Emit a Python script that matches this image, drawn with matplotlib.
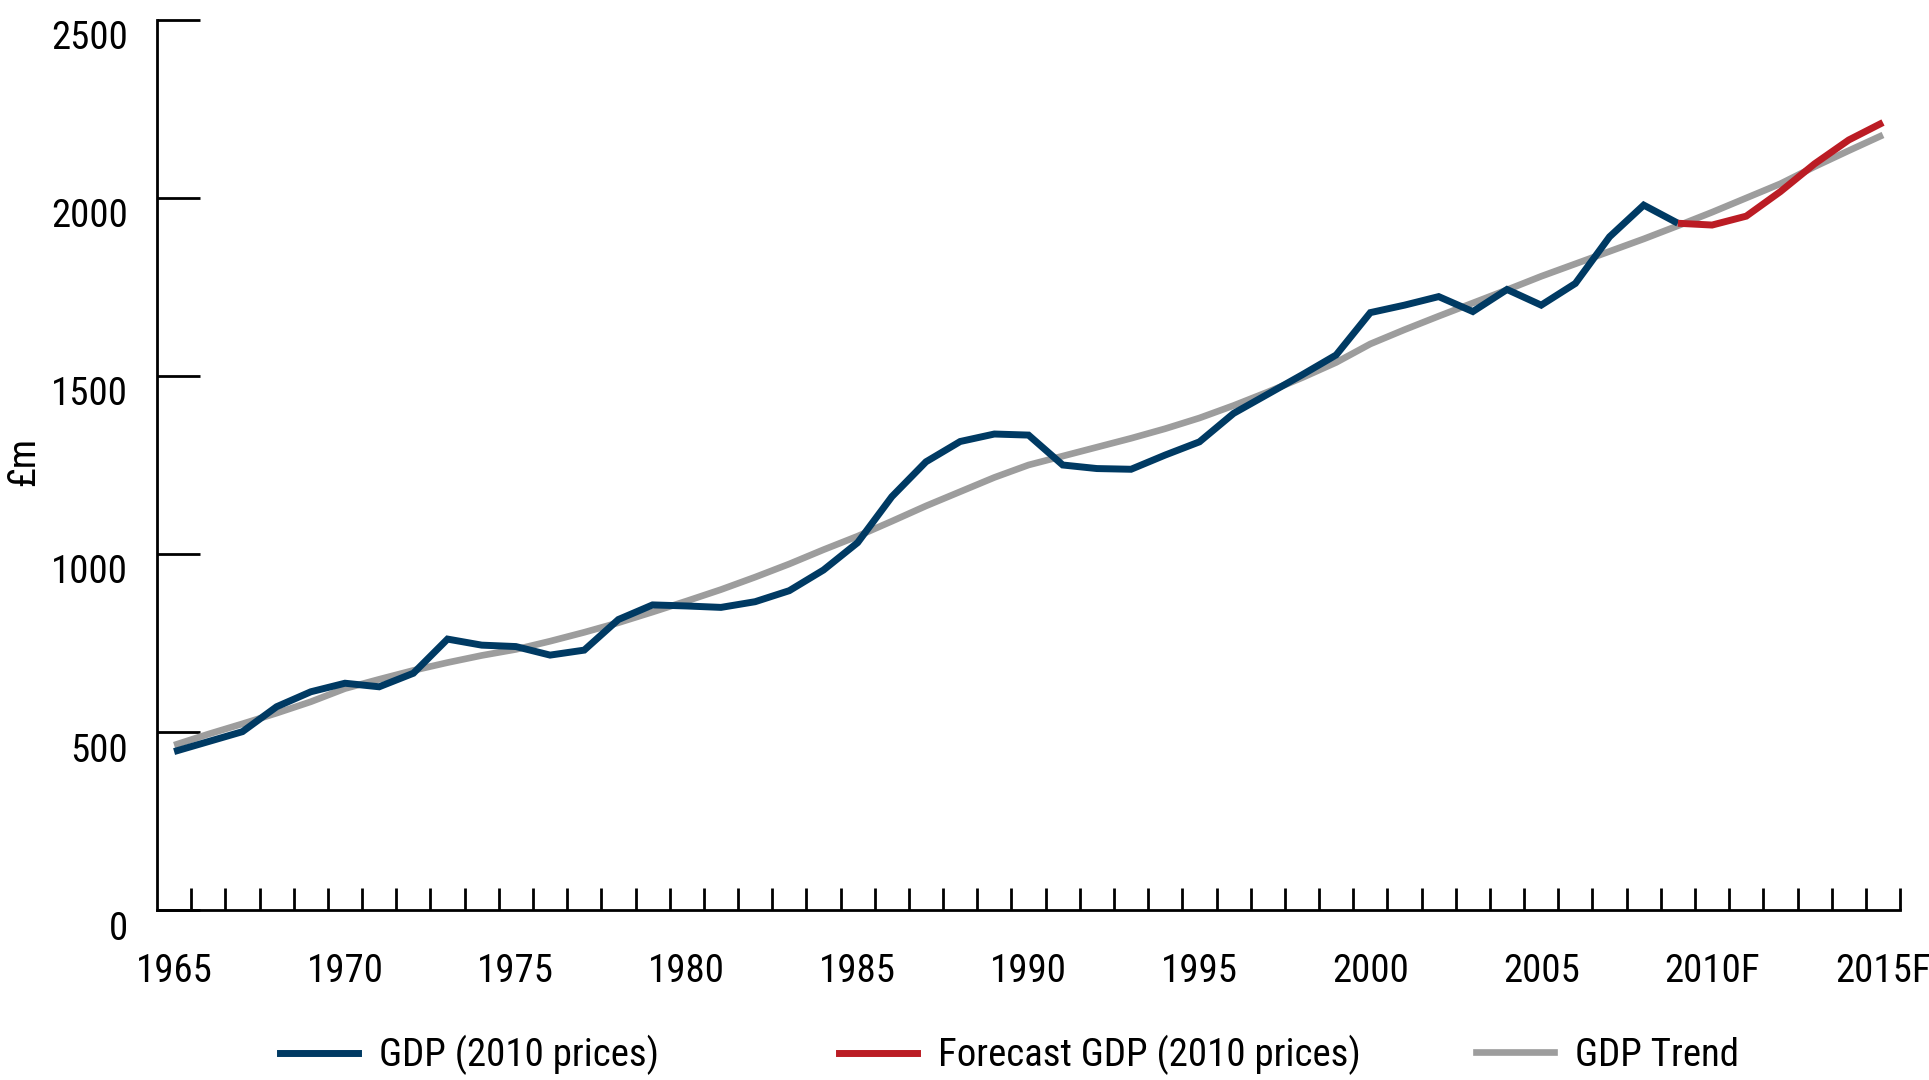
import matplotlib
matplotlib.use('Agg')
import matplotlib.pyplot as plt
import matplotlib.transforms as mtransforms
from matplotlib import font_manager
from matplotlib.lines import Line2D
import numpy as np

# the original uses a condensed face, look for a narrow one
fonts = [f for f in font_manager.fontManager.ttflist if f.style == 'normal' and f.weight in (400, 'normal', 'regular')]
pick = None
for want in ['Liberation Sans Narrow', 'Roboto Condensed', 'Open Sans Condensed', 'Noto Sans Condensed']:
    for f in fonts:
        if f.name == want:
            pick = (f.name, f.stretch)
            break
    if pick:
        break
if pick is None:
    for want in ['Noto Sans', 'Open Sans', 'Roboto', 'DejaVu Sans']:
        for f in fonts:
            if f.name == want and f.stretch in ('condensed', 'semi-condensed', 'extra-condensed'):
                pick = (f.name, f.stretch)
                break
        if pick:
            break
if pick is None:
    pick = ('DejaVu Sans', 'condensed')
plt.rcParams['font.family'] = [pick[0], 'DejaVu Sans']
plt.rcParams['font.stretch'] = pick[1]

years = [str(y) for y in range(1965, 2010)] + ['2010F'] + [str(y) for y in range(2011, 2015)] + ['2015F']

gdp = [445, 473, 501, 571, 613, 637, 627, 665, 761, 744,
       740, 716, 730, 816, 857, 854, 850, 866, 897, 955,
       1032, 1161, 1259, 1316, 1337, 1334, 1250, 1240, 1238, 1278,
       1315, 1395, 1449, 1503, 1559, 1678, 1699, 1723, 1681, 1743,
       1699, 1760, 1891, 1980, 1929]

forecast = [1929, 1924, 1949, 2018, 2096, 2163, 2212]

trend = [463, 494, 523, 553, 585, 622, 648, 673, 695, 715,
         732, 755, 780, 807, 837, 868, 900, 935, 972, 1012,
         1050, 1092, 1135, 1175, 1215, 1250, 1275, 1300, 1325, 1352,
         1382, 1417, 1455, 1495, 1538, 1590, 1630, 1668, 1705, 1742,
         1780, 1815, 1850, 1885, 1922, 1960, 2000, 2040, 2088, 2133,
         2177]

navy = '#003a63'
red = '#bb1c24'
grey = '#9d9d9d'

x = np.arange(len(years))
x_gdp = x[:len(gdp)]
x_fc = x[len(gdp) - 1:len(gdp) - 1 + len(forecast)]

fig = plt.figure(figsize=(19.29, 10.8), dpi=100)
ax = fig.add_axes([0.0814, 0.1574, 0.9036, 0.8241])

ax.plot(x, trend, color=grey, lw=4.8, solid_capstyle='butt', zorder=2)
ax.plot(x_gdp, gdp, color=navy, lw=5, solid_joinstyle='miter', solid_capstyle='butt', zorder=3)
ax.plot(x_fc, forecast, color=red, lw=5, solid_joinstyle='miter', solid_capstyle='butt', zorder=3)

ax.set_xlim(-0.5, len(years) - 0.5)
ax.set_ylim(0, 2500)

for s in ['top', 'right']:
    ax.spines[s].set_visible(False)
for s in ['left', 'bottom']:
    ax.spines[s].set_linewidth(2)
    ax.spines[s].set_color('black')

# y axis
ax.set_yticks([0, 500, 1000, 1500, 2000, 2500])
ax.tick_params(axis='y', direction='in', length=31, width=2, pad=21, labelsize=28)
offset = mtransforms.ScaledTranslation(0, -0.15, fig.dpi_scale_trans)
for lab in ax.get_yticklabels():
    lab.set_transform(lab.get_transform() + offset)
ax.set_ylabel('£m', fontsize=28)
ax.yaxis.set_label_coords(-0.066, 0.504)

# x axis: ticks between years, labels every 5 years
ax.set_xticks(np.arange(0.5, len(years), 1.0))
ax.set_xticklabels([])
ax.tick_params(axis='x', which='major', direction='in', length=16, width=2)
ax.set_xticks(x[::5], minor=True)
ax.set_xticklabels([years[i] for i in x[::5]], minor=True)
ax.tick_params(axis='x', which='minor', length=0, pad=31, labelsize=28)

# legend, three entries spread along the bottom
entries = [(navy, 'GDP (2010 prices)', 280, 5),
           (red, 'Forecast GDP (2010 prices)', 839, 5),
           (grey, 'GDP Trend', 1476, 4.8)]
for col, label, px, lw in entries:
    h = Line2D([], [], color=col, lw=lw)
    fig.legend(handles=[h], labels=[label], loc='center left',
               bbox_to_anchor=(px / 1929, 1 - 1055 / 1080),
               frameon=False, fontsize=28, handlelength=2.0,
               handletextpad=0.55, borderpad=0, borderaxespad=0)

fig.savefig('out.png', dpi=100)
